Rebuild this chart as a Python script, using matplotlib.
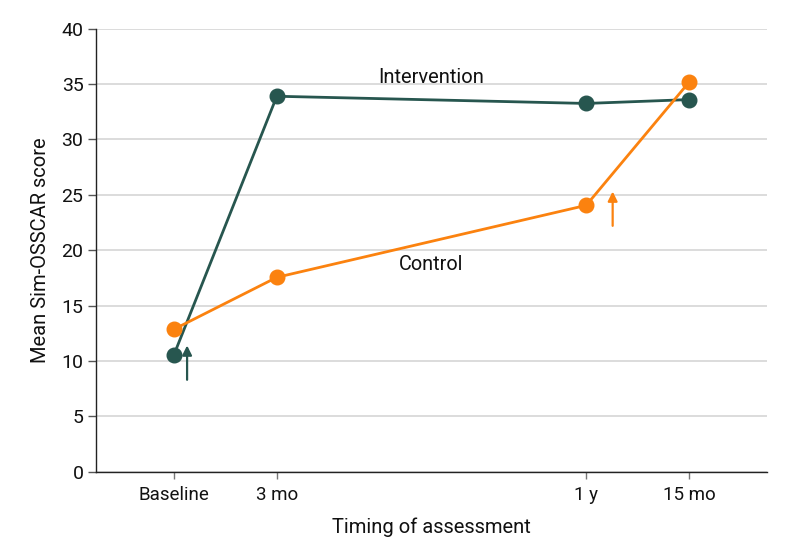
import matplotlib
matplotlib.use("Agg")
import matplotlib.pyplot as plt

months = [0, 3, 12, 15]
tick_labels = ["Baseline", "3 mo", "1 y", "15 mo"]
intervention = [10.5, 33.9, 33.25, 33.6]
control = [12.85, 17.55, 24.05, 35.2]

teal = "#27564f"
orange = "#fb820f"

plt.rcParams['font.family'] = ['Roboto', 'DejaVu Sans']

fig = plt.figure(figsize=(7.94, 5.56), dpi=100)
ax = fig.add_axes([0.1209, 0.1516, 0.966 - 0.1209, 0.9484 - 0.1516])

ax.set_xlim(-2.26, 17.26)
ax.set_ylim(0, 40)
ax.set_yticks(range(0, 41, 5))
ax.set_xticks(months)
ax.set_xticklabels(tick_labels)

ax.grid(axis='y', color='#d9d9d9', linewidth=1.3)
ax.set_axisbelow(True)

ax.plot(months, intervention, color=teal, lw=2.0, marker='o', ms=10.5, zorder=3)
ax.plot(months, control, color=orange, lw=2.0, marker='o', ms=10.5, zorder=4)

ax.annotate('', xy=(0.39, 11.4), xytext=(0.39, 8.3),
            arrowprops=dict(arrowstyle='-|>', color=teal, lw=1.6, mutation_scale=14, shrinkA=0, shrinkB=0))
ax.annotate('', xy=(12.77, 25.3), xytext=(12.77, 22.2),
            arrowprops=dict(arrowstyle='-|>', color=orange, lw=1.6, mutation_scale=14, shrinkA=0, shrinkB=0))

ax.text(7.49, 35.6, "Intervention", ha='center', va='center', fontsize=14.5, color='#111111')
ax.text(7.49, 18.7, "Control", ha='center', va='center', fontsize=14.3, color='#111111')

for s in ['top', 'right']:
    ax.spines[s].set_visible(False)
ax.spines['left'].set_color('#222222')
ax.spines['bottom'].set_color('#222222')
ax.spines['left'].set_linewidth(1.0)
ax.spines['bottom'].set_linewidth(1.0)

ax.tick_params(axis='y', length=6, width=1, color='#555555', labelsize=14, pad=3, labelcolor='#111111')
ax.tick_params(axis='x', length=5, width=1, color='#777777', labelsize=13.5, pad=5, labelcolor='#111111')

ax.set_ylabel("Mean Sim-OSSCAR score", fontsize=14.5, labelpad=8, color='#111111')
ax.set_xlabel("Timing of assessment", fontsize=14.5, labelpad=10, color='#111111')

fig.savefig("out.png", dpi=100)
